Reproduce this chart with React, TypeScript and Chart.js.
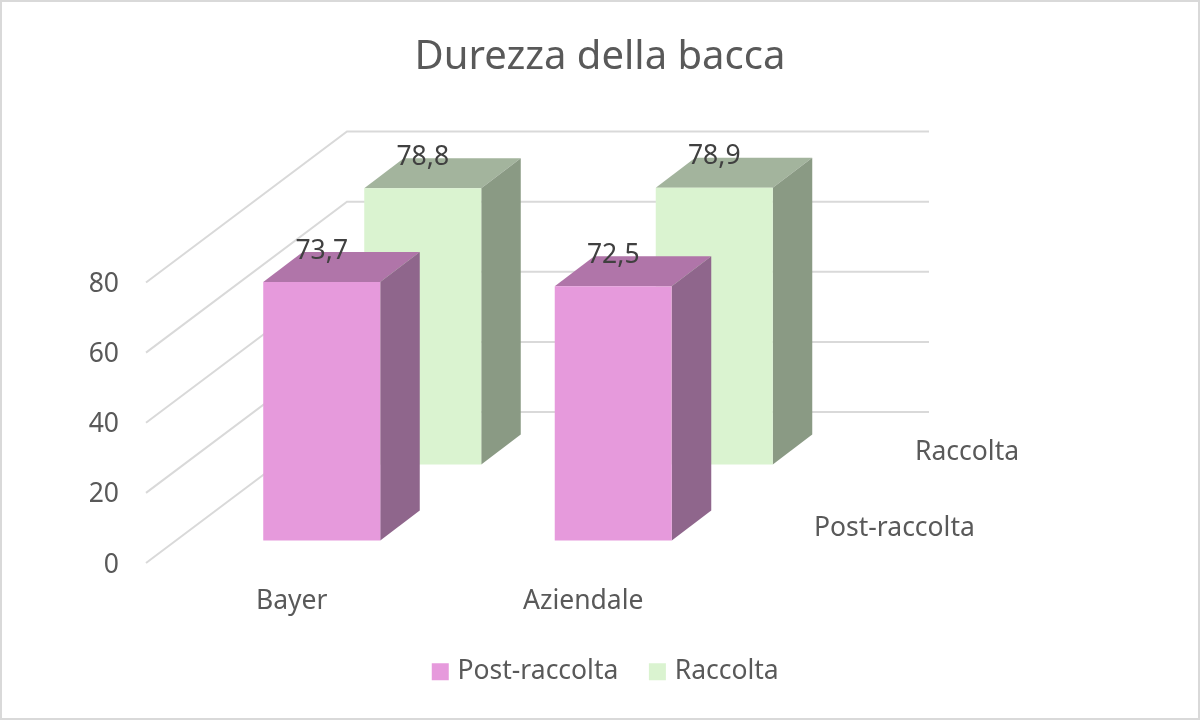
import React, { useEffect, useRef } from "react";
import { Chart, registerables } from "chart.js";

Chart.register(...registerables);

const categories = ["Bayer", "Aziendale"];
const seriesNames = ["Post-raccolta", "Raccolta"];
const postRaccolta = [73.7, 72.5];
const raccolta = [78.8, 78.9];
const yTicks = [0, 20, 40, 60, 80];

const FONT = "'Noto Sans', sans-serif";
const TEXT = "#595959";
const GRID = "#D9D9D9";

// fake 3D: how far each series and the back wall are pushed into the picture
const WALL = { dx: 201, dy: -151, right: 200 };
const SHIFT = [
  { dx: 30, dy: -22.5 },
  { dx: 131, dy: -98.5 },
];
const BAR_DEPTH = { dx: 39.5, dy: -30 };
const FACES = [
  { front: "#E69ADC", top: "#B075A9", side: "#8F668C" },
  { front: "#DAF3D0", top: "#A3B49D", side: "#8A9A84" },
];

const comma = (v: number) => v.toFixed(1).replace(".", ",");

const poly = (ctx: CanvasRenderingContext2D, pts: number[][], color: string) => {
  ctx.beginPath();
  pts.forEach(([x, y], i) => (i ? ctx.lineTo(x, y) : ctx.moveTo(x, y)));
  ctx.closePath();
  ctx.fillStyle = color;
  ctx.fill();
};

const box3d = {
  id: "box3d",
  // the legend sits a little right of the centre in the reference
  afterLayout(chart: any) {
    chart.legend.left += 7.5;
    chart.legend.right += 7.5;
  },
  // frame and the walls behind the bars
  beforeDatasetsDraw(chart: any) {
    const { ctx, chartArea, scales } = chart;
    ctx.save();
    ctx.strokeStyle = GRID;
    ctx.lineWidth = 2;
    ctx.strokeRect(1, 1, chart.width - 2, chart.height - 2);
    yTicks.forEach((t) => {
      const y = scales.y.getPixelForValue(t);
      ctx.beginPath();
      ctx.moveTo(chartArea.left, y);
      ctx.lineTo(chartArea.left + WALL.dx, y + WALL.dy);
      ctx.lineTo(chartArea.right + WALL.right, y + WALL.dy);
      ctx.stroke();
    });
    ctx.restore();
  },
  beforeDatasetDraw(chart: any, args: any) {
    const { ctx } = chart;
    const s = SHIFT[args.index];
    const f = FACES[args.index];
    ctx.save();
    ctx.translate(s.dx, s.dy);
    args.meta.data.forEach((bar: any) => {
      const l = bar.x - bar.width / 2;
      const r = bar.x + bar.width / 2;
      const d = BAR_DEPTH;
      poly(ctx, [[l, bar.y], [l + d.dx, bar.y + d.dy], [r + d.dx, bar.y + d.dy], [r, bar.y]], f.top);
      poly(ctx, [[r, bar.y], [r + d.dx, bar.y + d.dy], [r + d.dx, bar.base + d.dy], [r, bar.base]], f.side);
    });
  },
  afterDatasetDraw(chart: any) {
    chart.ctx.restore();
  },
  // value labels and the names along the depth axis sit on top of everything
  afterDatasetsDraw(chart: any) {
    const { ctx, chartArea, scales } = chart;
    ctx.save();
    ctx.textBaseline = "middle";
    chart.data.datasets.forEach((ds: any, i: number) => {
      const s = SHIFT[i];
      ctx.font = `26.5px ${FONT}`;
      ctx.textAlign = "center";
      ctx.fillStyle = "#404040";
      chart.getDatasetMeta(i).data.forEach((bar: any, j: number) => {
        ctx.fillText(comma(ds.data[j]), bar.x + s.dx, bar.y + s.dy - 31);
      });
      ctx.textAlign = "left";
      ctx.fillStyle = TEXT;
      ctx.fillText(ds.label, chartArea.right + s.dx + 55, scales.y.getPixelForValue(0) + s.dy - 12.5);
    });
    ctx.restore();
  },
};

const App: React.FC = () => {
  const canvasRef = useRef<HTMLCanvasElement>(null);

  useEffect(() => {
    document.body.style.margin = "0";
    if (!canvasRef.current) return;
    const chart = new Chart(canvasRef.current, {
      type: "bar",
      data: {
        labels: categories,
        datasets: [
          { label: seriesNames[0], data: postRaccolta, backgroundColor: FACES[0].front, yAxisID: "y" },
          { label: seriesNames[1], data: raccolta, backgroundColor: FACES[1].front, yAxisID: "y" },
        ],
      },
      options: {
        responsive: false,
        animation: false,
        layout: { padding: { bottom: 25 } },
        datasets: {
          bar: { grouped: false, barPercentage: 0.4014, categoryPercentage: 1, clip: false },
        },
        plugins: {
          title: {
            display: true,
            text: "Durezza della bacca",
            color: TEXT,
            font: { family: FONT, size: 40, weight: "normal" },
            padding: { top: 34, bottom: 200.5 },
          },
          legend: {
            position: "bottom",
            labels: {
              color: TEXT,
              font: { family: FONT, size: 26.5 },
              boxWidth: 8,
              boxHeight: 8,
              padding: 35,
              // thick stroke keeps the swatch close to its text
              generateLabels: (c: any) =>
                Chart.defaults.plugins.legend.labels
                  .generateLabels(c)
                  .map((l: any) => ({ ...l, strokeStyle: l.fillStyle, lineWidth: 9 })),
            },
          },
          tooltip: { enabled: false },
        },
        scales: {
          x: {
            grid: { display: false },
            border: { display: false },
            ticks: { color: TEXT, font: { family: FONT, size: 26.5 }, padding: 15, maxRotation: 0 },
            afterFit: (s: any) => {
              s.height = 60.5;
            },
          },
          y: {
            min: 0,
            max: 80,
            grid: { display: false },
            border: { display: false },
            ticks: { color: TEXT, font: { family: FONT, size: 26.5 }, stepSize: 20, padding: 19, labelOffset: 2 },
            afterFit: (s: any) => {
              s.width = 146;
            },
          },
          // empty axis, only keeps room on the right for the depth of the walls
          depth: {
            type: "linear",
            position: "right",
            grid: { display: false },
            border: { display: false },
            ticks: { display: false },
            afterFit: (s: any) => {
              s.width = 471;
            },
          },
        },
      },
      plugins: [box3d],
    } as any);
    return () => chart.destroy();
  }, []);

  return <canvas ref={canvasRef} width={1200} height={720} style={{ display: "block" }} />;
};

export default App;
